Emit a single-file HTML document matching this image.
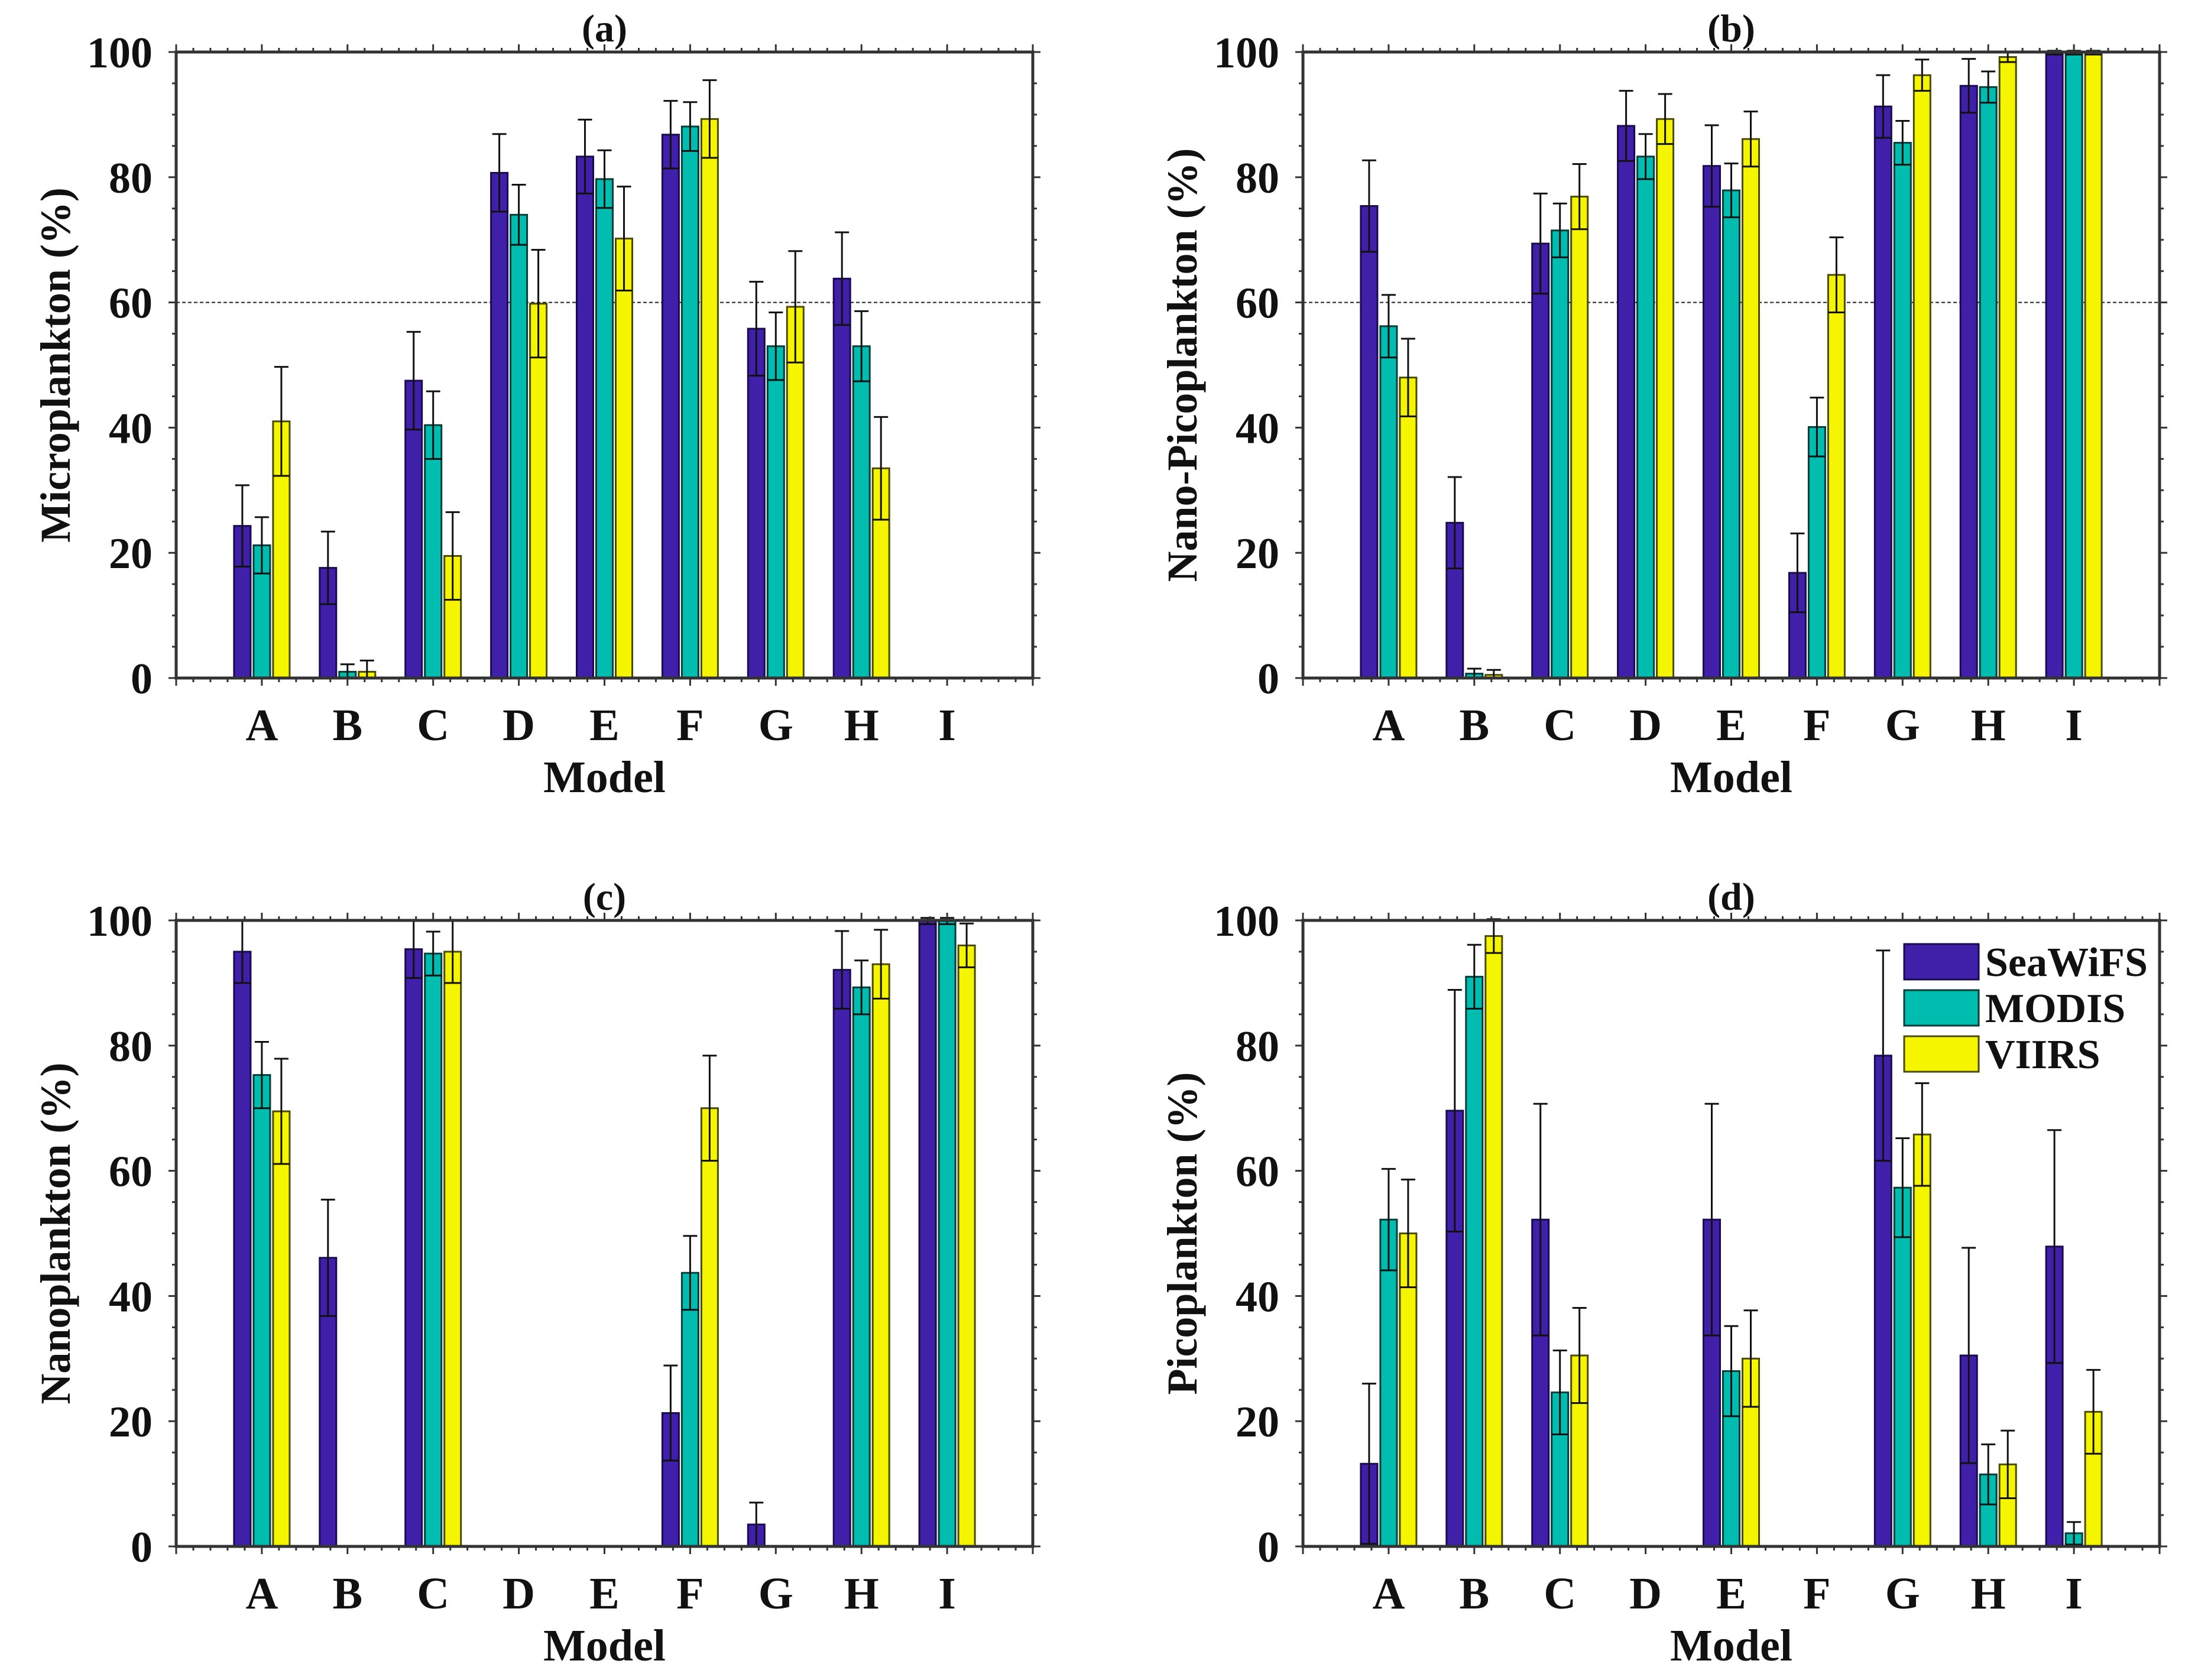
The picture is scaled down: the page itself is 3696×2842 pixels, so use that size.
<!DOCTYPE html>
<html><head><meta charset="utf-8"><style>
html,body{margin:0;padding:0;background:#fff}
svg{display:block}
text{font-family:"Liberation Serif",serif;font-weight:bold;fill:#111}
</style></head><body>
<svg id="fig" width="3696" height="2842" viewBox="0 0 3696 2842" xmlns="http://www.w3.org/2000/svg"></svg>
<script>
const categories=["A","B","C","D","E","F","G","H","I"];
const seriesNames=["SeaWiFS","MODIS","VIIRS"];
const yTicks=[0,20,40,60,80,100];
// panel (a) Microplankton
const aSea=[24.3,17.6,47.5,80.7,83.3,86.8,55.8,63.8,0];
const aSeaErr=[6.5,5.8,7.8,6.2,5.9,5.4,7.5,7.4,0];
const aMod=[21.2,1.0,40.4,74.0,79.7,88.1,53.0,53.0,0];
const aModErr=[4.5,1.2,5.4,4.8,4.6,3.9,5.4,5.6,0];
const aVii=[41.0,1.0,19.5,59.8,70.2,89.3,59.3,33.5,0];
const aViiErr=[8.7,1.8,7.0,8.6,8.3,6.2,8.9,8.2,0];
// panel (b) Nano-Picoplankton
const bSea=[75.4,24.8,69.4,88.2,81.8,16.8,91.3,94.6,99.9];
const bSeaErr=[7.3,7.3,8.0,5.6,6.5,6.3,5.0,4.3,0.3];
const bMod=[56.2,0.7,71.5,83.3,77.9,40.1,85.5,94.4,99.9];
const bModErr=[5.0,0.8,4.3,3.6,4.3,4.7,3.5,2.5,0.3];
const bVii=[48.0,0.5,76.9,89.3,86.1,64.4,96.3,99.2,99.9];
const bViiErr=[6.2,0.8,5.2,4.0,4.4,6.0,2.5,0.8,0.3];
// panel (c) Nanoplankton
const cSea=[95.0,46.1,95.4,0,0,21.3,3.5,92.1,99.9];
const cSeaErr=[5.0,9.3,4.6,0,0,7.6,3.5,6.2,0.5];
const cMod=[75.3,0,94.7,0,0,43.7,0,89.3,99.9];
const cModErr=[5.3,0,3.5,0,0,5.9,0,4.3,0.5];
const cVii=[69.5,0,95.0,0,0,70.0,0,93.0,96.0];
const cViiErr=[8.4,0,5.0,0,0,8.4,0,5.5,3.5];
// panel (d) Picoplankton
const dSea=[13.2,69.6,52.2,0,52.2,0,78.4,30.5,47.9];
const dSeaErr=[12.8,19.3,18.5,0,18.5,0,16.8,17.2,18.6];
const dMod=[52.2,91.0,24.6,0,28.0,0,57.3,11.5,2.1];
const dModErr=[8.1,5.1,6.7,0,7.2,0,7.9,4.8,1.8];
const dVii=[50.0,97.5,30.5,0,30.0,0,65.8,13.1,21.5];
const dViiErr=[8.6,2.7,7.6,0,7.7,0,8.2,5.4,6.7];

const NS="http://www.w3.org/2000/svg";
const svg=document.getElementById('fig');
const colors=["#4020a8","#00bdb0","#f5f500"];
const edges=["#1a0a50","#003c38","#4a4a00"];
function mk(tag,attrs,parent){const e=document.createElementNS(NS,tag);for(const k in attrs)e.setAttribute(k,attrs[k]);(parent||svg).appendChild(e);return e;}

const panels=[
 {id:"a",x:298,y:88,ylabel:"Microplankton (%)",vals:[aSea,aMod,aVii],errs:[aSeaErr,aModErr,aViiErr],dash:true},
 {id:"b",x:2204,y:88,ylabel:"Nano-Picoplankton (%)",vals:[bSea,bMod,bVii],errs:[bSeaErr,bModErr,bViiErr],dash:true},
 {id:"c",x:298,y:1557,ylabel:"Nanoplankton (%)",vals:[cSea,cMod,cVii],errs:[cSeaErr,cModErr,cViiErr],dash:false},
 {id:"d",x:2204,y:1557,ylabel:"Picoplankton (%)",vals:[dSea,dMod,dVii],errs:[dSeaErr,dModErr,dViiErr],dash:false,legend:true}
];
const W=1449,H=1059;
panels.forEach(p=>{
  const g=mk('g',{});
  
  
  const xs=v=>p.x+v/10*W;
  const ys=v=>p.y+H-v/100*H;
  if(p.dash){
    const dl=mk('line',{x1:p.x,x2:p.x+W,y1:ys(60),y2:ys(60),stroke:'#222','stroke-width':2,'stroke-dasharray':'6,4'},g);
    
    
  }
  const bw=28,off=33;
  categories.forEach((c,i)=>{
    for(let s=0;s<3;s++){
      const v=p.vals[s][i],e=p.errs[s][i];
      const cx=xs(i+1)+(s-1)*off;
      if(v>0){
        const r=mk('rect',{x:cx-bw/2,y:ys(v),width:bw,height:ys(0)-ys(v),fill:colors[s],stroke:edges[s],'stroke-width':3},g);
        
        
      }
      if(e>0){
        const eg=mk('g',{stroke:'#111','stroke-width':3},g);
        
        
        const lo=Math.max(0,v-e),hi=v+e;
        mk('line',{x1:cx,x2:cx,y1:ys(lo),y2:ys(hi)},eg);
        mk('line',{x1:cx-12,x2:cx+12,y1:ys(hi),y2:ys(hi)},eg);
        mk('line',{x1:cx-bw/2,x2:cx+bw/2,y1:ys(lo),y2:ys(lo)},eg);
      }
    }
  });
  // axes box
  const box=mk('rect',{x:p.x,y:p.y,width:W,height:H,fill:'none',stroke:'#333','stroke-width':5},g);
  
  
  // x ticks
  for(let k=0;k<=50;k++){
    const v=k*0.2,major=k%5===0,L=major?13:7,x=xs(v);
    mk('line',{x1:x,x2:x,y1:p.y,y2:p.y-L,stroke:'#333','stroke-width':3},g);
    mk('line',{x1:x,x2:x,y1:p.y+H,y2:p.y+H+L,stroke:'#333','stroke-width':3},g);
  }
  for(let k=0;k<=20;k++){
    const v=k*5,major=k%4===0,L=major?13:7,y=ys(v);
    mk('line',{x1:p.x,x2:p.x-L,y1:y,y2:y,stroke:'#333','stroke-width':3},g);
    mk('line',{x1:p.x+W,x2:p.x+W+L,y1:y,y2:y,stroke:'#333','stroke-width':3},g);
  }
  yTicks.forEach(t=>{
    const tl=mk('text',{x:p.x-40,y:ys(t)+26,'text-anchor':'end','font-size':74},g);
    tl.textContent=t;
    
    
  });
  categories.forEach((c,i)=>{
    const tl=mk('text',{x:xs(i+1),y:p.y+H+105,'text-anchor':'middle','font-size':76},g);
    tl.textContent=c;
    
    
  });
  const xt=mk('text',{x:p.x+W/2,y:p.y+H+193,'text-anchor':'middle','font-size':76},g);
  xt.textContent="Model";
  
  
  const tt=mk('text',{x:p.x+W/2,y:p.y-18,'text-anchor':'middle','font-size':66},g);
  tt.textContent="("+p.id+")";
  
  
  const yl=mk('text',{x:0,y:0,'text-anchor':'middle','font-size':72,transform:`translate(${p.x-180},${p.y+H/2}) rotate(-90)`},g);
  yl.textContent=p.ylabel;
  
  
  if(p.legend){
    const lg=mk('g',{},g);
    
    
    seriesNames.forEach((n,s)=>{
      const y0=1597+s*78;
      const r=mk('rect',{x:3221,y:y0,width:126,height:60,fill:colors[s],stroke:edges[s],'stroke-width':3},lg);
      
      
      const t=mk('text',{x:3358,y:y0+54,'font-size':70},lg);
      t.textContent=n;
      
      
    });
  }
});
</script>
</body></html>
